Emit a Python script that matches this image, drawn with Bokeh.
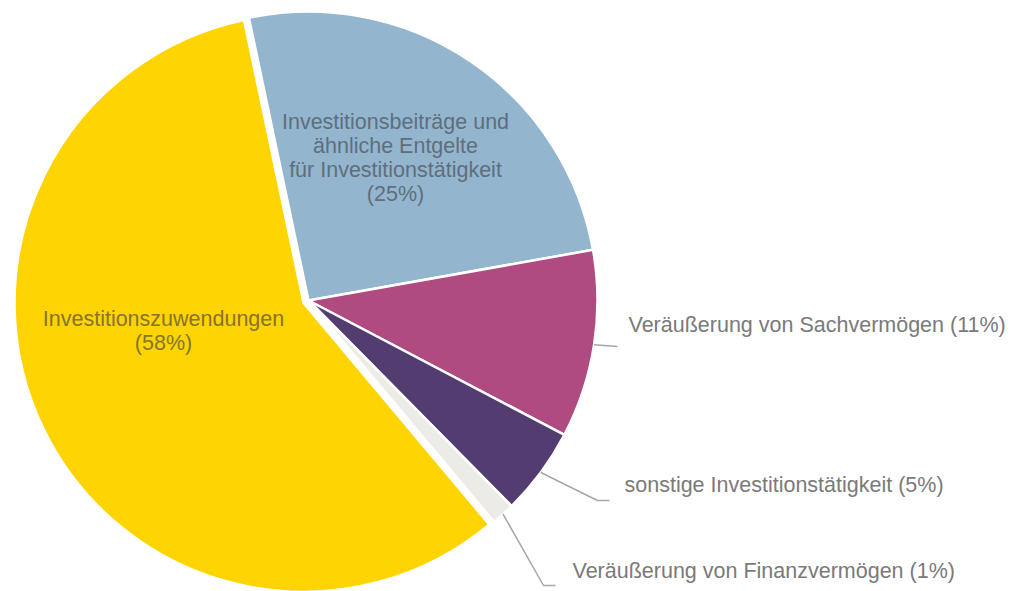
import math
from bokeh.plotting import figure
from bokeh.models import Range1d, ColumnDataSource
from bokeh.embed import file_html
from bokeh.resources import INLINE
from bokeh.core.properties import value

# ---- data (clockwise order, starting with the blue slice) ----
categories = [
    "Investitionsbeiträge und ähnliche Entgelte für Investitionstätigkeit",
    "Veräußerung von Sachvermögen",
    "sonstige Investitionstätigkeit",
    "Veräußerung von Finanzvermögen",
    "Investitionszuwendungen",
]
shares = [25.5, 10.5, 4.9, 1.3, 57.8]
pct_labels = ["25%", "11%", "5%", "1%", "58%"]
colors = ["#93B6CE", "#B04B82", "#523C70", "#EDEBE6", "#FFD400"]
exploded = [0, 0, 0, 0, 1]

# ---- layout (screen pixels, y downward) ----
W, H = 1012, 591
CX, CY, R = 308.0, 300.0, 289.0
START_CLOCK = -11.9      # degrees clockwise from 12 o'clock
EXPLODE = 5.5
FONT = "Liberation Sans"
FS = "21.5px"
TDY = -8                 # vertical correction for text placement


def fy(ypix):
    """screen y -> data y"""
    return H - ypix


p = figure(width=W, height=H, x_range=Range1d(0, W), y_range=Range1d(0, H),
           output_backend="svg", toolbar_location=None, min_border=0,
           x_axis_type=None, y_axis_type=None)
p.grid.visible = False
p.outline_line_color = None
p.background_fill_color = "white"
p.border_fill_color = "white"

total = sum(shares)
xs, ys, sa, ea, mids = [], [], [], [], []
acc = START_CLOCK
for s, ex in zip(shares, exploded):
    t1 = acc
    t2 = acc + 360.0 * s / total
    acc = t2
    mid = math.radians((t1 + t2) / 2)
    mids.append(mid)
    d = EXPLODE if ex else 0.0
    xs.append(CX + d * math.sin(mid))
    ys.append(fy(CY - d * math.cos(mid)))
    sa.append(math.radians(90 - t2))
    ea.append(math.radians(90 - t1))

src = ColumnDataSource(dict(x=xs, y=ys, sa=sa, ea=ea, color=colors, cat=categories))
p.wedge(x="x", y="y", radius=R, start_angle="sa", end_angle="ea",
        fill_color="color", line_color="white", line_width=2.5, source=src)

# ---- leader lines and outside labels (slices 1,2,3) ----
outer_idx = [1, 2, 3]
elbows = [(617, 346), (597, 500), (543, 585)]
ends = [(617, 346), (609, 500), (555, 585)]
text_pos = [(628, 332), (624, 492), (572, 578)]
for k, i in enumerate(outer_idx):
    sx = xs[i] + R * math.sin(mids[i])
    sy = ys[i] + R * math.cos(mids[i])
    lx = [sx, elbows[k][0], ends[k][0]]
    ly = [sy, fy(elbows[k][1]), fy(ends[k][1])]
    p.line(lx, ly, line_color="#A6A6A6", line_width=1.5)
    p.text(x=[text_pos[k][0]], y=[fy(text_pos[k][1] + TDY)],
           text=[f"{categories[i]} ({pct_labels[i]})"],
           text_font=value(FONT), text_font_size=FS, text_color="#7A7A7A",
           text_align="left", text_baseline="alphabetic")

# ---- inside labels ----
blue_lines = ["Investitionsbeiträge und", "ähnliche Entgelte",
              "für Investitionstätigkeit", f"({pct_labels[0]})"]
blue_base = [129, 153, 177, 201]
p.text(x=[395] * 4, y=[fy(b + TDY) for b in blue_base], text=blue_lines,
       text_font=value(FONT), text_font_size=FS, text_color="#5F6E7C",
       text_align="center", text_baseline="alphabetic")

yellow_lines = [categories[4], f"({pct_labels[4]})"]
yellow_base = [326, 350]
p.text(x=[163] * 2, y=[fy(b + TDY) for b in yellow_base], text=yellow_lines,
       text_font=value(FONT), text_font_size=FS, text_color="#85752E",
       text_align="center", text_baseline="alphabetic")

open("out.html", "w").write(file_html(p, INLINE))
